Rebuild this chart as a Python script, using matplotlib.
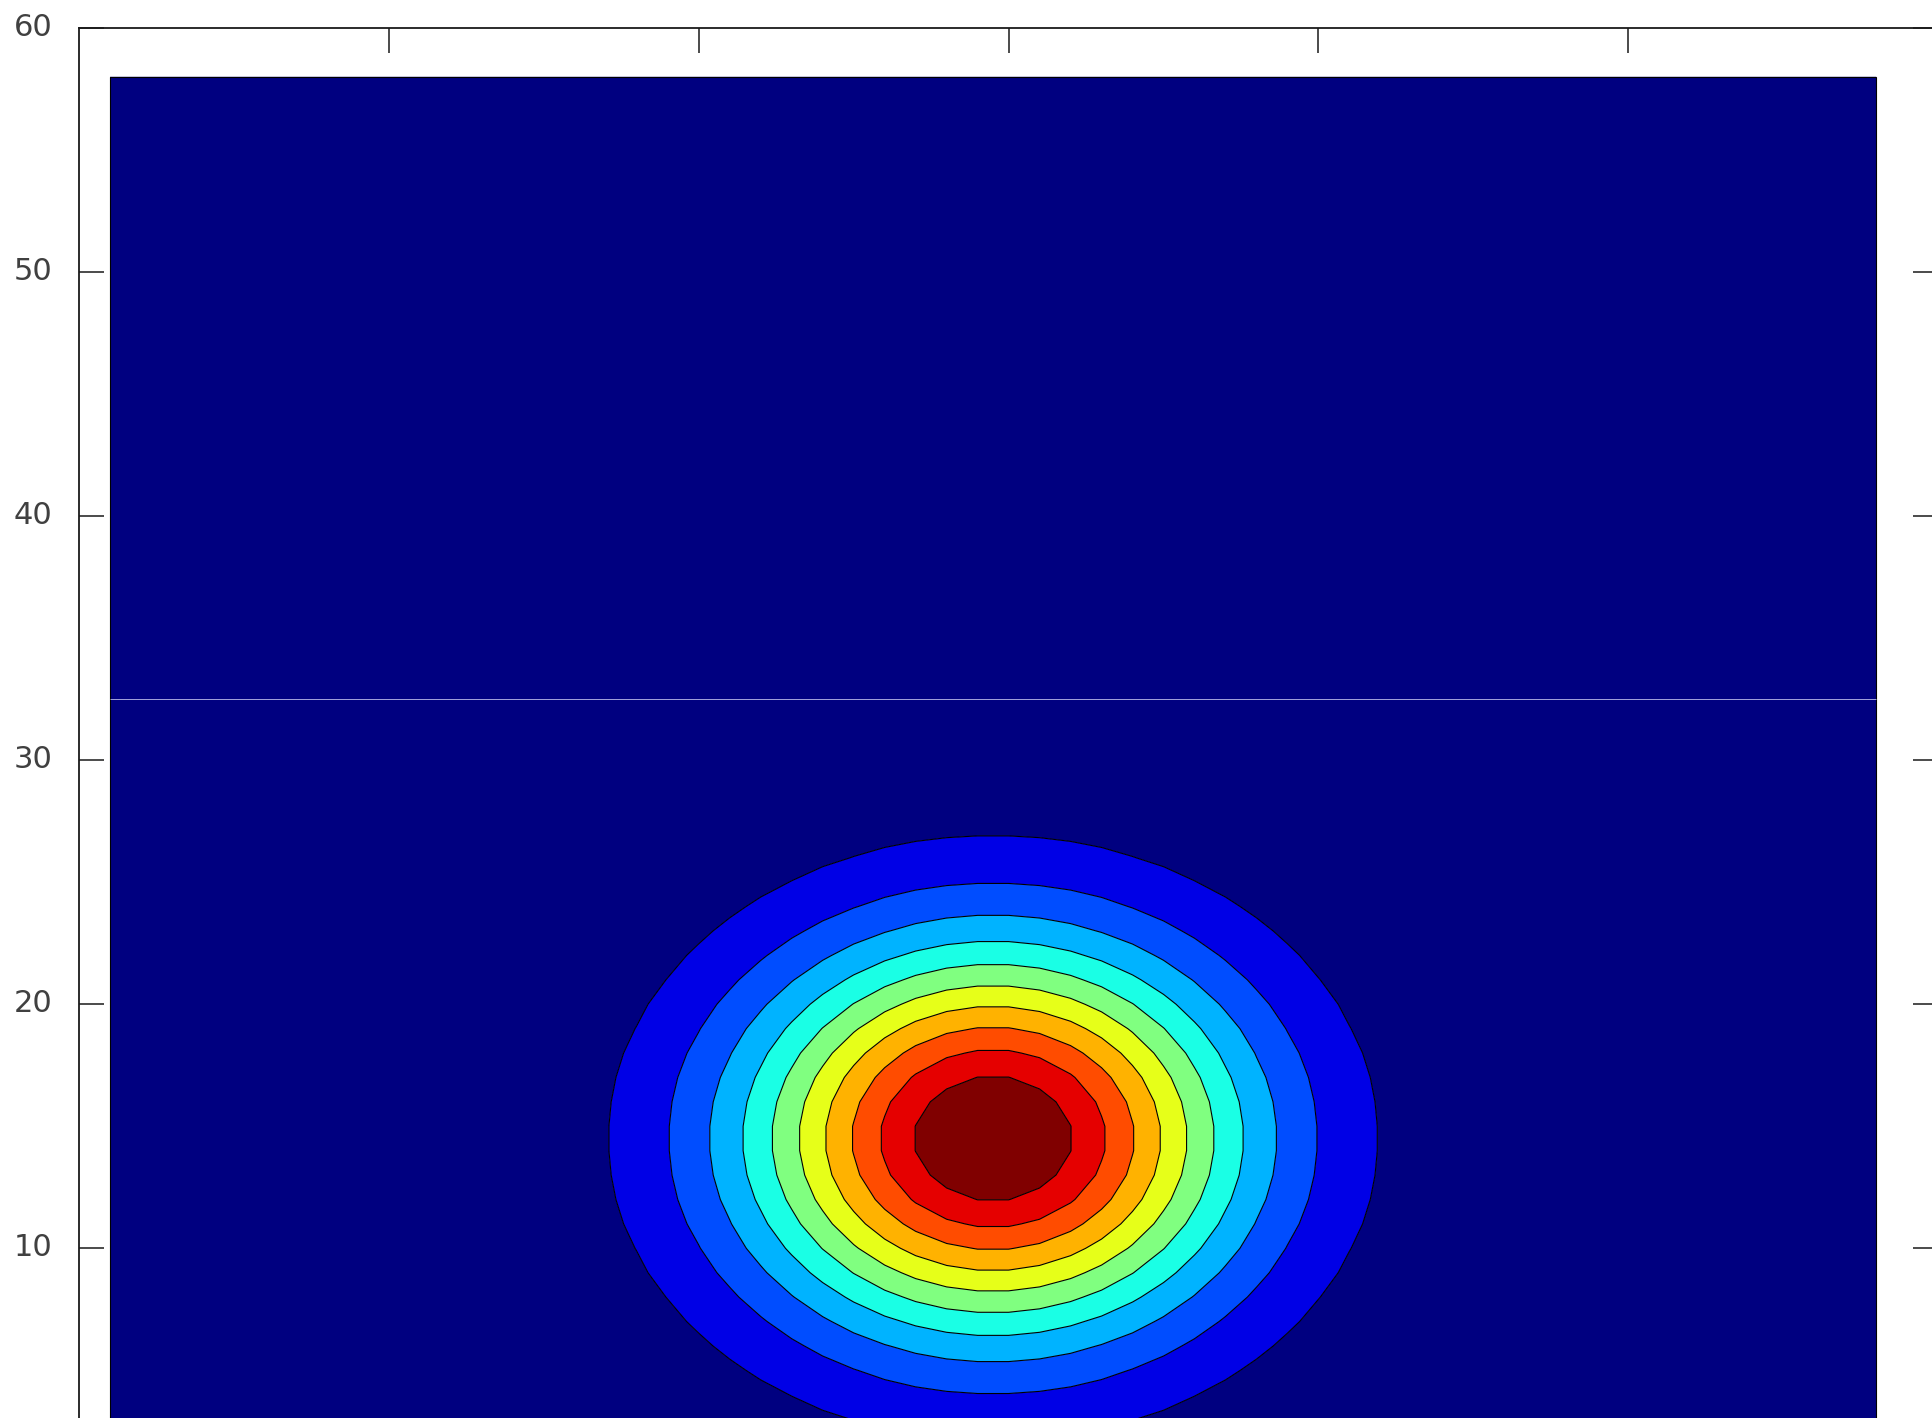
import numpy as np
import matplotlib
matplotlib.use("Agg")
import matplotlib.pyplot as plt
from matplotlib.patches import Rectangle
from matplotlib.transforms import ScaledTranslation

# Grid coordinates of the sampled field
x_cells = np.arange(1, 59)
y_cells = np.arange(1, 59)

# Single Gaussian peak
peak_x = 29.5
peak_y = 14.5
peak_width = 5.65

# Number of interior contour levels
n_levels = 10

# Axis ticks
x_ticks = [10, 20, 30, 40, 50]
y_ticks = [10, 20, 30, 40, 50, 60]

# Faint seam line across the filled region
seam_y = 32.5


def jet(t):
    """Piecewise-linear jet colormap (Octave style)."""
    t = np.asarray(t, dtype=float)
    r = np.clip(np.minimum(4 * t - 1.5, -4 * t + 4.5), 0, 1)
    g = np.clip(np.minimum(4 * t - 0.5, -4 * t + 3.5), 0, 1)
    b = np.clip(np.minimum(4 * t + 0.5, -4 * t + 2.5), 0, 1)
    return np.stack([r, g, b], axis=-1)


X, Y = np.meshgrid(x_cells, y_cells)
Z = np.exp(-((X - peak_x) ** 2 + (Y - peak_y) ** 2) / (2 * peak_width ** 2))

levels = np.linspace(Z.min(), Z.max(), n_levels + 2)
band_colors = [tuple(c) for c in jet(np.linspace(0, 1, n_levels + 1))]

W, H = 1933, 1418
dpi = 100
fig = plt.figure(figsize=(W / dpi, H / dpi), dpi=dpi)
fig.patch.set_facecolor("white")

left_px, right_px = 79, 1938.2
top_px = 28
px_per_y = 24.406
bottom_px = top_px + 60 * px_per_y
ax = fig.add_axes([left_px / W, 1 - bottom_px / H,
                   (right_px - left_px) / W, (bottom_px - top_px) / H])

ax.contourf(x_cells, y_cells, Z, levels=levels, colors=band_colors,
            antialiased=True)
ax.contour(x_cells, y_cells, Z, levels=levels[1:-1], colors="black",
           linewidths=0.8)

# Outline of the sampled domain
ax.add_patch(Rectangle((x_cells[0], y_cells[0]),
                       x_cells[-1] - x_cells[0], y_cells[-1] - y_cells[0],
                       fill=False, edgecolor="black", linewidth=0.8, zorder=3))
ax.hlines(seam_y, x_cells[0], x_cells[-1], colors="#a4a4dc", linewidth=0.7,
          zorder=4)

ax.set_xlim(0, 60)
ax.set_ylim(0, 60)
ax.set_xticks(x_ticks)
ax.set_yticks(y_ticks)
ax.set_yticklabels([str(t) for t in y_ticks])

ax.tick_params(axis="both", which="both", direction="in", length=18,
               width=1.1, color="#1a1a1a", top=True, right=True,
               labelsize=22, labelcolor="#404040", pad=19,
               labelbottom=False)
shift = ScaledTranslation(0, 4 / dpi, fig.dpi_scale_trans)
for lab in ax.get_yticklabels():
    lab.set_transform(lab.get_transform() + shift)
for sp in ax.spines.values():
    sp.set_linewidth(1.3)
    sp.set_color("#1a1a1a")

fig.savefig("out.png", dpi=dpi, facecolor="white")
